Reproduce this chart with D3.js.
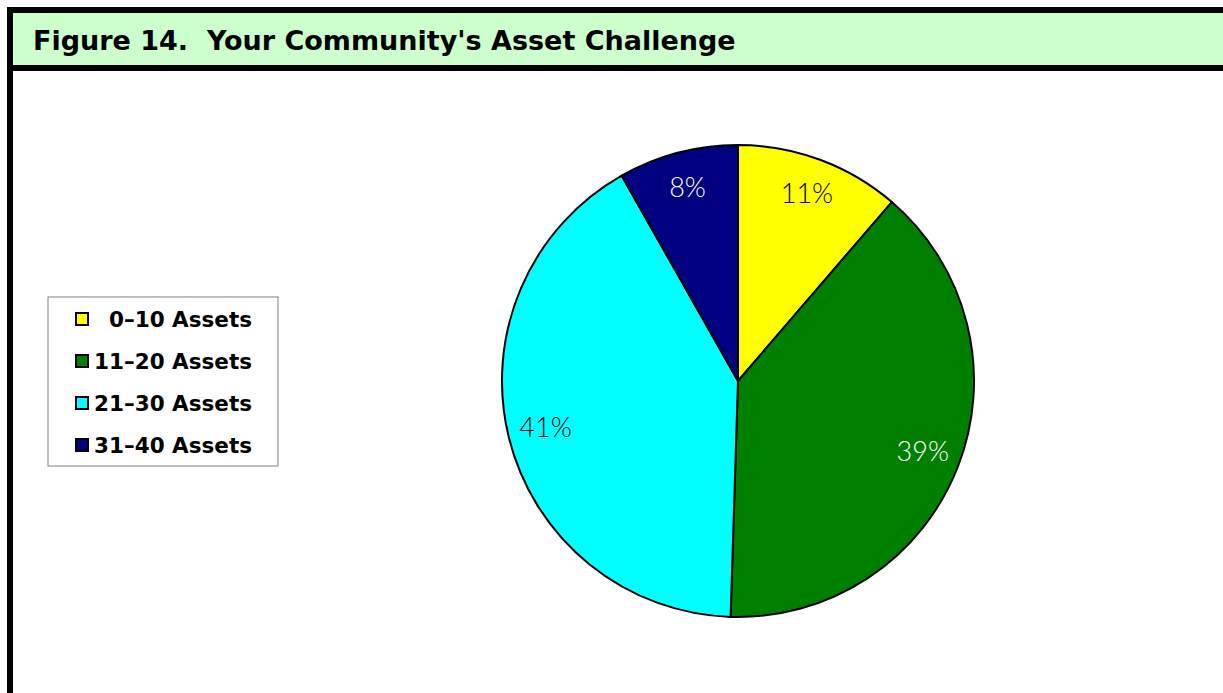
<!DOCTYPE html>
<html>
<head>
<meta charset="utf-8">
<script src="https://cdn.jsdelivr.net/npm/d3@7"></script>
<style>
  body { margin: 0; background: #fff; }
  svg { display: block; }
</style>
</head>
<body>
<svg id="chart" width="1223" height="693"></svg>
<script>
// chart data
const categories = ["0\u201310 Assets", "11\u201320 Assets", "21\u201330 Assets", "31\u201340 Assets"];
const values = [11.3, 39.2, 41.3, 8.2];
const pctLabels = ["11%", "39%", "41%", "8%"];
const colors = ["#ffff00", "#008000", "#00ffff", "#000080"];
const labelInk = ["#000000", "#ffffff", "#000000", "#ffffff"];

const svg = d3.select("svg#chart");
const width = +svg.attr("width");
const height = +svg.attr("height");

// frame + title bar
svg.append("rect")
   .attr("x", 10).attr("y", 10)
   .attr("width", width + 20).attr("height", height + 20)
   .attr("fill", "#fff")
   .attr("stroke", "#000").attr("stroke-width", 6);

svg.append("rect")
   .attr("x", 10).attr("y", 10)
   .attr("width", width + 20).attr("height", 58)
   .attr("fill", "#ccffcc")
   .attr("stroke", "#000").attr("stroke-width", 6);

svg.append("text")
   .attr("x", 33).attr("y", 50)
   .style("font", "bold 27px 'DejaVu Sans', sans-serif")
   .attr("xml:space", "preserve")
   .text("Figure 14.  Your Community's Asset Challenge");

// pie
const cx = 738, cy = 381, radius = 236;

const pie = d3.pie().sort(null).value(d => d);
const arcs = pie(values);
const arc = d3.arc().innerRadius(0).outerRadius(radius);
const labelArc = d3.arc().innerRadius(radius * 0.84).outerRadius(radius * 0.84);

const g = svg.append("g").attr("transform", `translate(${cx},${cy})`);

g.selectAll("path")
 .data(arcs)
 .join("path")
 .attr("d", arc)
 .attr("fill", (d, i) => colors[i])
 .attr("stroke", "#000")
 .attr("stroke-width", 2)
 .attr("stroke-linejoin", "round");

g.selectAll("text.pct")
 .data(arcs)
 .join("text")
 .attr("class", "pct")
 .attr("transform", d => `translate(${labelArc.centroid(d)})`)
 .attr("text-anchor", "middle")
 .attr("dy", "0.3em")
 .attr("fill", (d, i) => labelInk[i])
 .style("font", "300 27px Lato, sans-serif")
 .text((d, i) => pctLabels[i]);

// legend
const legend = svg.append("g").attr("transform", "translate(48,297)");
legend.append("rect")
      .attr("width", 230).attr("height", 169)
      .attr("fill", "#fff")
      .attr("stroke", "#808080").attr("stroke-width", 1);

const item = legend.selectAll("g.item")
  .data(categories)
  .join("g")
  .attr("class", "item")
  .attr("transform", (d, i) => `translate(0,${22 + i * 42})`);

item.append("rect")
    .attr("x", 28).attr("y", -6)
    .attr("width", 12).attr("height", 12)
    .attr("fill", (d, i) => colors[i])
    .attr("stroke", "#000").attr("stroke-width", 2);

item.append("text")
    .attr("x", 204)
    .attr("dy", "0.36em")
    .attr("text-anchor", "end")
    .style("font", "bold 21.5px 'DejaVu Sans', sans-serif")
    .text(d => d);
</script>
</body>
</html>
